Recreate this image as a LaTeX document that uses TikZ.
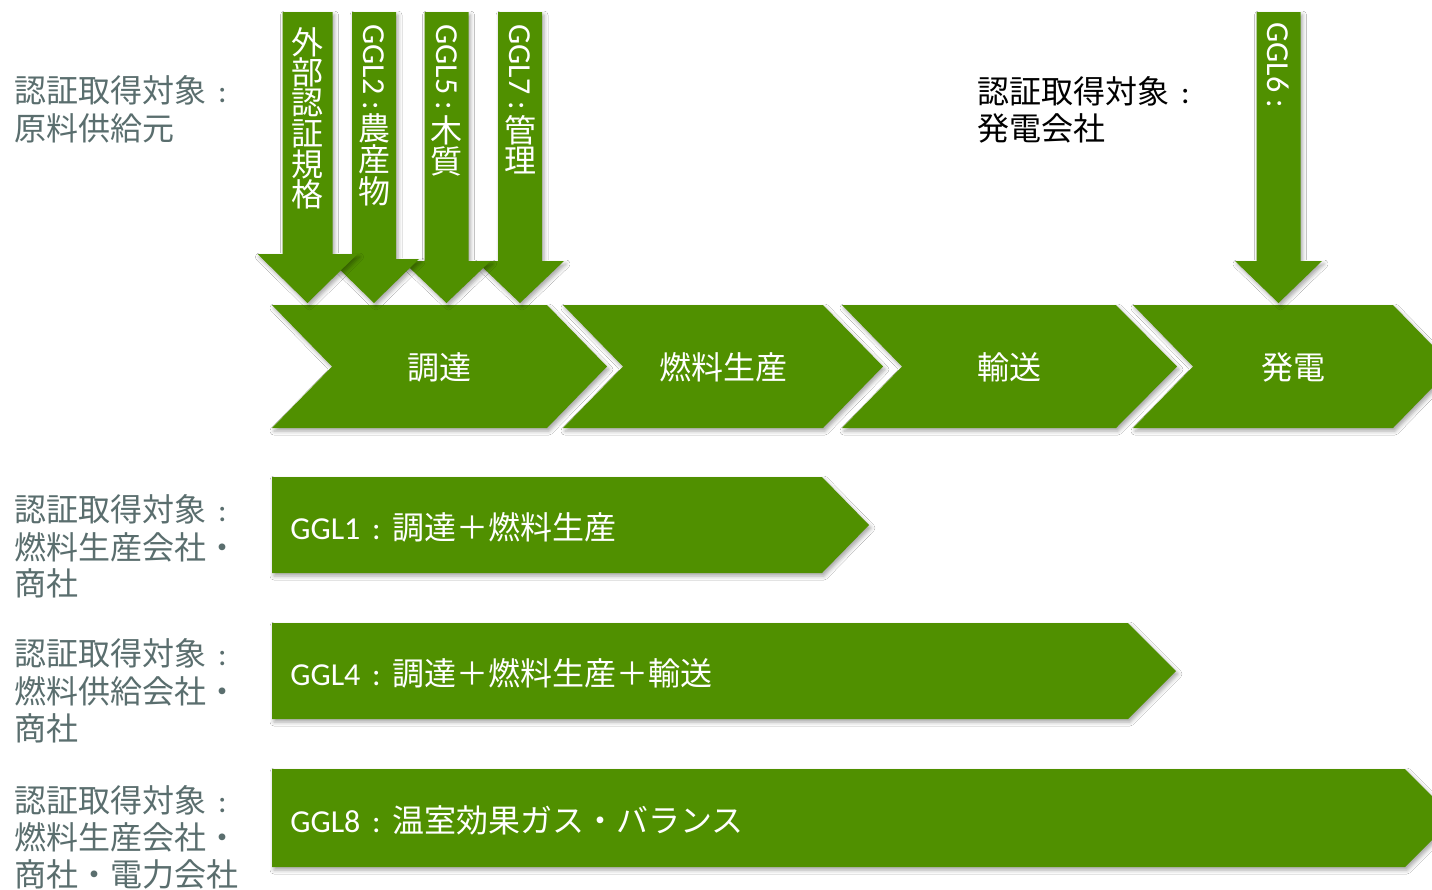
\documentclass[tikz,border=0pt]{standalone}
\usepackage{fontspec}
\setmainfont{Noto Sans CJK JP}
\newfontfamily\lat{Carlito}
\usetikzlibrary{shadows.blur}
\definecolor{gg}{RGB}{80,144,0}
\definecolor{lbl}{RGB}{90,110,110}
\newcommand\fwcol{\makebox[1em][c]{\lat :}}
\begin{document}
\begin{tikzpicture}[x=0.5pt,y=-0.5pt,
  shp/.style={fill=gg, blur shadow={shadow xshift=1pt, shadow yshift=-1.5pt, shadow blur radius=2pt, shadow opacity=35}},
  wt/.style={text=white, inner sep=0pt, font=\fontsize{16pt}{19pt}\selectfont},
  gt/.style={text=lbl, inner sep=0pt, anchor=west, font=\fontsize{16pt}{19pt}\selectfont},
  bk/.style={text=black, inner sep=0pt, anchor=west, font=\fontsize{16pt}{19pt}\selectfont}]
\useasboundingbox (0,0) rectangle (1432,890);
\clip (0,0) rectangle (1432,890);
\fill[white] (0,0) rectangle (1432,890);

% process chevrons
\path[shp] (272,305) -- (547,305) -- (607,366.5) -- (547,428) -- (272,428) -- (332,366.5) -- cycle;
\path[shp] (563,305) -- (823,305) -- (883,366.5) -- (823,428) -- (563,428) -- (623,366.5) -- cycle;
\path[shp] (842,305) -- (1116,305) -- (1177,366.5) -- (1116,428) -- (842,428) -- (902,366.5) -- cycle;
\path[shp] (1133,305) -- (1393,305) -- (1453,366.5) -- (1393,428) -- (1133,428) -- (1193,366.5) -- cycle;
\node[wt] (c1) at (439.5,367) {調達};
\node[wt] (c2) at (723,367) {燃料生産};
\node[wt] (c3) at (1009,367) {輸送};
\node[wt] (c4) at (1293,367) {発電};

% vertical arrows (drawn right to left so the left one lies on top)
\path[shp] (1256.5,12) -- (1300.5,12) -- (1300.5,261) -- (1322,261) -- (1278.5,303) -- (1235,261) -- (1256.5,261) -- cycle;
\path[shp] (498,12) -- (542,12) -- (542,261) -- (564,261) -- (520,303) -- (476,261) -- (498,261) -- cycle;
\path[shp] (424.5,12) -- (468.5,12) -- (468.5,261) -- (490.5,261) -- (446.5,303) -- (402.5,261) -- (424.5,261) -- cycle;
\path[shp] (352,12) -- (396,12) -- (396,259) -- (419,259) -- (374,303) -- (329,259) -- (352,259) -- cycle;
\path[shp] (282.5,12) -- (332.5,12) -- (332.5,254) -- (357.5,254) -- (307.5,303) -- (257.5,254) -- (282.5,254) -- cycle;

% vertical texts
\foreach \c [count=\i] in {外,部,認,証,規,格}
  \node[wt] (va\i) at (307.5,{42+30.5*(\i-1)}) {\c};
\node[wt, rotate=-90, anchor=west] (vb0) at (374,24) {\lat GGL2 :};
\foreach \c [count=\i] in {農,産,物}
  \node[wt] (vb\i) at (374,{128+31.5*(\i-1)}) {\c};
\node[wt, rotate=-90, anchor=west] (vc0) at (446.5,24) {\lat GGL5 :};
\foreach \c [count=\i] in {木,質}
  \node[wt] (vc\i) at (446.5,{130+31*(\i-1)}) {\c};
\node[wt, rotate=-90, anchor=west] (vd0) at (520,24) {\lat GGL7 :};
\foreach \c [count=\i] in {管,理}
  \node[wt] (vd\i) at (520,{130+31*(\i-1)}) {\c};
\node[wt, rotate=-90, anchor=west] (ve0) at (1278.5,22) {\lat GGL6 :};

% scope bars
\path[shp] (272,477) -- (822,477) -- (869,525) -- (822,573) -- (272,573) -- cycle;
\path[shp] (272,623) -- (1128,623) -- (1176,671) -- (1128,719) -- (272,719) -- cycle;
\path[shp] (272,769) -- (1405,769) -- (1454,818) -- (1405,867) -- (272,867) -- cycle;
\node[wt, anchor=west] (b1) at (290,527) {{\lat GGL1}\fwcol 調達＋燃料生産};
\node[wt, anchor=west] (b2) at (290,673) {{\lat GGL4}\fwcol 調達＋燃料生産＋輸送};
\node[wt, anchor=west] (b3) at (290,820) {{\lat GGL8}\fwcol 温室効果ガス・バランス};

% labels
\node[gt] (l1a) at (14,90) {認証取得対象\fwcol};
\node[gt] (l1b) at (14,128) {原料供給元};
\node[bk] (r1a) at (977,91) {認証取得対象\fwcol};
\node[bk] (r1b) at (977,128) {発電会社};
\node[gt] (l2a) at (14,509) {認証取得対象\fwcol};
\node[gt] (l2b) at (14,547) {燃料生産会社・};
\node[gt] (l2c) at (14,583) {商社};
\node[gt] (l3a) at (14,653) {認証取得対象\fwcol};
\node[gt] (l3b) at (14,691) {燃料供給会社・};
\node[gt] (l3c) at (14,728) {商社};
\node[gt] (l4a) at (14,800) {認証取得対象\fwcol};
\node[gt] (l4b) at (14,837) {燃料生産会社・};
\node[gt] (l4c) at (14,874) {商社・電力会社};
\end{tikzpicture}
\end{document}
